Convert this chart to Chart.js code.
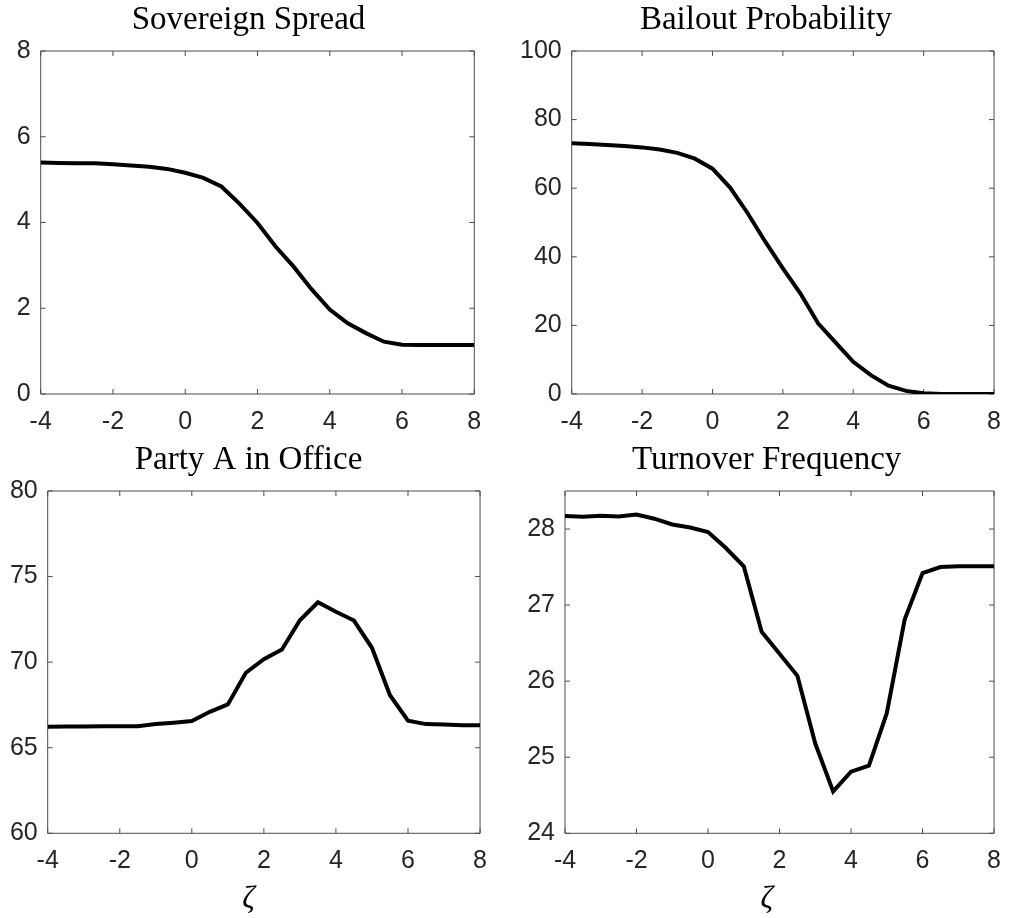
<!DOCTYPE html>
<html><head><meta charset="utf-8">
<script src="https://cdn.jsdelivr.net/npm/chart.js@4"></script>
<style>
html,body{margin:0;padding:0;background:#fff;}
body{width:1014px;height:918px;position:relative;overflow:hidden;}
canvas{position:absolute;display:block;}
</style></head><body>
<canvas id="c1" width="500" height="440" style="left:0px;top:0px;width:500px;height:440px"></canvas>
<canvas id="c2" width="514" height="440" style="left:500px;top:0px;width:514px;height:440px"></canvas>
<canvas id="c3" width="500" height="478" style="left:0px;top:440px;width:500px;height:478px"></canvas>
<canvas id="c4" width="514" height="478" style="left:500px;top:440px;width:514px;height:478px"></canvas>
<script>
// ---- data ----
const zeta = [-4,-3.5,-3,-2.5,-2,-1.5,-1,-0.5,0,0.5,1,1.5,2,2.5,3,3.5,4,4.5,5,5.5,6,6.5,7,7.5,8];
const sovereignSpread = [5.40,5.39,5.38,5.38,5.36,5.33,5.30,5.25,5.16,5.04,4.84,4.44,3.99,3.44,2.97,2.44,1.97,1.65,1.42,1.22,1.15,1.14,1.14,1.14,1.14];
const bailoutProbability = [73.1,72.9,72.6,72.3,71.9,71.3,70.3,68.6,65.7,60.2,52.7,44.4,36.6,29.3,20.6,15.0,9.4,5.5,2.4,0.9,0.2,0.0,0.0,0.0,0.0];
const partyAInOffice = [66.23,66.24,66.24,66.25,66.25,66.26,66.38,66.46,66.56,67.10,67.53,69.38,70.17,70.74,72.45,73.50,72.94,72.43,70.84,68.07,66.58,66.38,66.36,66.32,66.32];
const turnoverFrequency = [28.17,28.16,28.175,28.166,28.19,28.136,28.06,28.02,27.96,27.75,27.51,26.65,26.36,26.07,25.18,24.55,24.81,24.89,25.58,26.81,27.42,27.50,27.51,27.51,27.51];

const xTicks = [-4,-2,0,2,4,6,8];
const spreadTicks = [0,2,4,6,8];
const bailoutTicks = [0,20,40,60,80,100];
const partyTicks = [60,65,70,75,80];
const turnoverTicks = [24,25,26,27,28];

const titles = ['Sovereign Spread','Bailout Probability','Party A in Office','Turnover Frequency'];
const xLabel = 'ζ';

// let tick labels extend beyond the narrow axis boxes (no label clipping)
if (Chart.Scale && Chart.Scale.prototype) {
  Chart.Scale.prototype._computeLabelArea = function () { return undefined; };
}

// ---- box + inward ticks (MATLAB style) ----
const boxTicks = {
  id: 'boxTicks',
  beforeDatasetsDraw(chart) {
    const {ctx, chartArea: a, scales: {x, y}} = chart;
    const tl = 5;
    ctx.save();
    ctx.strokeStyle = '#4d4d4d';
    ctx.lineWidth = 1;
    ctx.beginPath();
    ctx.rect(a.left, a.top, a.right - a.left, a.bottom - a.top);
    x.ticks.forEach(t => {
      const px = x.getPixelForValue(t.value);
      ctx.moveTo(px, a.bottom); ctx.lineTo(px, a.bottom - tl);
      ctx.moveTo(px, a.top); ctx.lineTo(px, a.top + tl);
    });
    y.ticks.forEach(t => {
      const py = y.getPixelForValue(t.value);
      ctx.moveTo(a.left, py); ctx.lineTo(a.left + tl, py);
      ctx.moveTo(a.right, py); ctx.lineTo(a.right - tl, py);
    });
    ctx.stroke();
    ctx.restore();
  }
};

const tickFont = {family: "'Liberation Sans', Arial, sans-serif", size: 25};
const tickColor = '#262626';

function makeChart(id, cfg) {
  new Chart(document.getElementById(id), {
    type: 'line',
    data: {datasets: [{
      data: zeta.map((v, i) => ({x: v, y: cfg.values[i]})),
      borderColor: '#000', borderWidth: 4, pointRadius: 0, tension: 0, fill: false,
      borderJoinStyle: 'miter'
    }]},
    options: {
      responsive: false, animation: false, events: [],
      layout: {padding: {left: cfg.pl, right: cfg.pr, top: 0, bottom: 0}},
      plugins: {
        legend: {display: false}, tooltip: {enabled: false},
        title: {display: true, text: cfg.title, color: '#000',
          font: {family: "'Liberation Serif', serif", size: 33, weight: 'normal', lineHeight: 1},
          padding: {top: 3.4, bottom: 14.6}},
        subtitle: {display: !!cfg.xlabel, position: 'bottom', text: cfg.xlabel || '', color: '#000',
          font: {family: "'Liberation Serif', serif", size: 31, style: 'italic', weight: 'normal', lineHeight: 1},
          padding: {top: 0, bottom: 3}}
      },
      scales: {
        x: {type: 'linear', min: -4, max: 8,
          afterBuildTicks: ax => { ax.ticks = xTicks.map(v => ({value: v})); },
          afterFit: ax => { ax.height = cfg.xh; },
          grid: {display: false, drawTicks: false}, border: {display: false},
          ticks: {padding: 13, color: tickColor, font: tickFont, maxRotation: 0, autoSkip: false}},
        y: {type: 'linear', min: cfg.ymin, max: cfg.ymax,
          afterBuildTicks: ax => { ax.ticks = cfg.yticks.map(v => ({value: v})); },
          afterFit: ax => { ax.width = cfg.yw; },
          grid: {display: false, drawTicks: false}, border: {display: false},
          ticks: {padding: 10, color: tickColor, font: tickFont, autoSkip: false}}
      }
    },
    plugins: [boxTicks]
  });
}

makeChart('c1', {values: sovereignSpread, title: titles[0], ymin: 0, ymax: 8, yticks: spreadTicks, pl: 22.7, yw: 18, pr: 25.7, xh: 46});
makeChart('c2', {values: bailoutProbability, title: titles[1], ymin: 0, ymax: 100, yticks: bailoutTicks, pl: 26, yw: 45.7, pr: 8, xh: 46});
makeChart('c3', {values: partyAInOffice, title: titles[2], ymin: 60, ymax: 80, yticks: partyTicks, pl: 15, yw: 32.7, pr: 18, xh: 50.7, xlabel: xLabel});
makeChart('c4', {values: turnoverFrequency, title: titles[3], ymin: 24, ymax: 28.5, yticks: turnoverTicks, pl: 34.1, yw: 30.9, pr: 14.7, xh: 50.7, xlabel: xLabel});
</script>
</body></html>
